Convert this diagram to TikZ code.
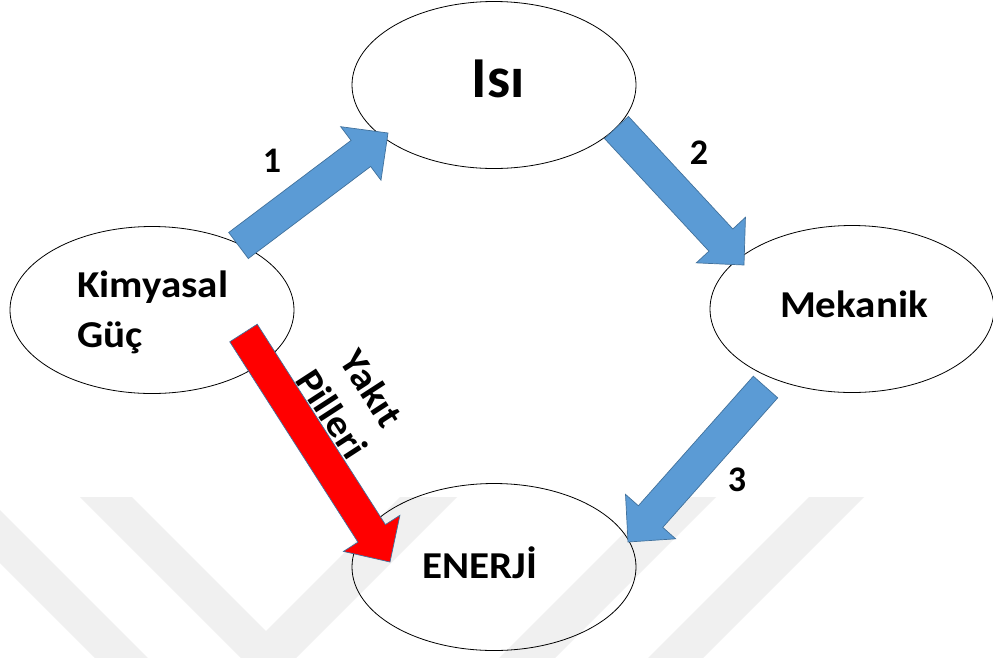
\documentclass[tikz,border=0pt]{standalone}
\usepackage{fontspec}
\setmainfont{Carlito}
\usetikzlibrary{calc,shapes.geometric}
\definecolor{arrblue}{HTML}{5B9BD5}
\definecolor{arredge}{HTML}{41719C}
\definecolor{arrred}{HTML}{FF0000}
\definecolor{wmgray}{HTML}{F0F0F0}
\newcommand\blockarrow[3]{%
  \coordinate (ba-n) at ($(#3)!34pt!(#2)$);
  \filldraw[#1] ($(#2)!16.3pt!90:(#3)$) -- ($(ba-n)!16.3pt!90:(#3)$) -- ($(ba-n)!33.5pt!90:(#3)$) -- (#3)
    -- ($(ba-n)!33.5pt!-90:(#3)$) -- ($(ba-n)!16.3pt!-90:(#3)$) -- ($(#2)!16.3pt!-90:(#3)$) -- cycle;
}
\newcommand\wide[1]{\scalebox{1.08}[1]{#1}}
\begin{document}
\begin{tikzpicture}[x=1pt,y=-1pt,
  ell/.style={draw=black,line width=0.8pt,ellipse,minimum width=284pt,minimum height=167pt,inner sep=0pt},
  lbl/.style={font=\bfseries\fontsize{38}{44}\selectfont,inner sep=0pt},
  numlbl/.style={font=\bfseries\fontsize{36}{40}\selectfont,inner sep=0pt,anchor=base},
  bluearrow/.style={fill=arrblue,draw=arredge,line width=0.7pt,line join=miter},
  redarrow/.style={fill=arrred,draw=arredge,line width=0.7pt,line join=miter}]
\useasboundingbox (0,0) rectangle (993,657);
\fill[white] (0,0) rectangle (993,657);
% watermark
\begin{scope}
\clip (0,0) rectangle (993,657);
\fill[wmgray] (-66,497) -- (-13,497) -- (200,710) -- (147,710) -- cycle;
\fill[wmgray] (80,497) -- (132,497) -- (266,631) -- (400,497) -- (457,497) -- (268.5,685.5) -- cycle;
\fill[wmgray] (660,497) -- (716,497) -- (503,710) -- (447,710) -- cycle;
\fill[wmgray] (809,497) -- (864,497) -- (651,710) -- (596,710) -- cycle;
\end{scope}
% ellipses
\node[ell] (isi) at (494,85) {};
\node[ell] (kim) at (152,310) {};
\node[ell] (mek) at (852,309) {};
\node[ell] (ene) at (494,567) {};
% arrow ends
\coordinate (a1s) at (238.5,245.5);
\coordinate (a1e) at (388,133);
\coordinate (a2s) at (616.5,127.5);
\coordinate (a2e) at (744,265);
\coordinate (a3s) at (765.5,387);
\coordinate (a3e) at (628,542);
\coordinate (a4s) at (243.5,333);
\coordinate (a4e) at (390,562);
\blockarrow{bluearrow}{a1s}{a1e}
\blockarrow{bluearrow}{a2s}{a2e}
\blockarrow{bluearrow}{a3s}{a3e}
\blockarrow{redarrow}{a4s}{a4e}
% texts
\node[lbl,font=\bfseries\fontsize{58}{60}\selectfont,anchor=base] (tisi) at (498,97) {Isı};
\node[lbl,anchor=base west] (tkim) at (77,297) {\wide{Kimyasal}};
\node[lbl,anchor=base west] (tguc) at (77,347) {\wide{Güç}};
\node[lbl,anchor=base] (tmek) at (854,317) {\wide{Mekanik}};
\node[lbl,anchor=base] (tene) at (480,578) {\wide{ENERJİ}};
\node[numlbl] (n1) at (272,172) {1};
\node[numlbl] (n2) at (699,164) {2};
\node[numlbl] (n3) at (737,491) {3};
\node[lbl,font=\bfseries\fontsize{38}{47}\selectfont,align=center,rotate=-57] (tyak) at (352,401) {\wide{Yakıt}\\\wide{Pilleri}};
\end{tikzpicture}
\end{document}
